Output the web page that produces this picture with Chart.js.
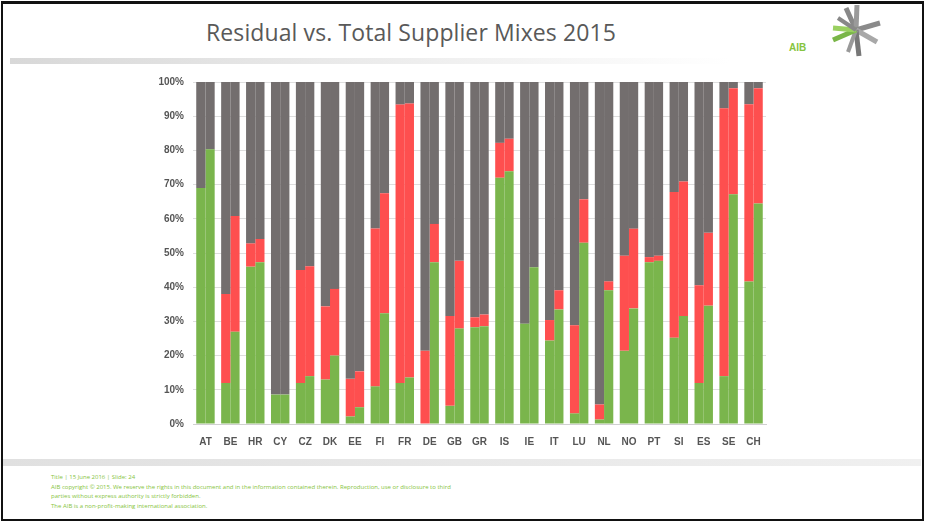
<!DOCTYPE html>
<html>
<head>
<meta charset="utf-8">
<script src="https://cdn.jsdelivr.net/npm/chart.js@4"></script>
<style>
    body { margin: 0; width: 926px; height: 522px; background: #fff; position: relative; overflow: hidden; font-family: "Open Sans", sans-serif; }
    #frame { position: absolute; left: 1px; top: 1px; width: 919px; height: 515px; border: 2px solid #111; border-top-width: 3px; }
    #title { position: absolute; left: 0; top: 16px; width: 822px; text-align: center; font-size: 23px; color: #595959; letter-spacing: 0.1px; }
    #band1 { position: absolute; left: 10px; top: 58px; width: 720px; height: 6px; background: linear-gradient(to right, #d8d8d8, #fff); }
    #band2 { position: absolute; left: 3px; top: 459px; width: 918px; height: 7px; background: linear-gradient(to right, #e0e0e0, #f0f0f0); }
    #footer { position: absolute; left: 51px; top: 473px; font-size: 6px; line-height: 9.6px; color: #86c440; }
    #logo { position: absolute; left: 780px; top: 2px; }
    #wrap { position: absolute; left: 120px; top: 67px; width: 660px; height: 398px; }
</style>
</head>
<body>
<div id="frame"></div>
<div id="title">Residual vs. Total Supplier Mixes 2015</div>
<div id="band1"></div>
<div id="band2"></div>
<svg id="logo" width="120" height="60">
    <text x="9" y="49" font-family="Liberation Sans, Arial" font-size="10" font-weight="bold" fill="#86c440">AIB</text>
    <g stroke-linecap="butt">
        <line x1="76" y1="28" x2="66" y2="6" stroke="#888" stroke-width="5"/>
        <line x1="76" y1="28" x2="77" y2="3" stroke="#9a9a9a" stroke-width="5"/>
        <line x1="76" y1="28" x2="100" y2="21" stroke="#8a8a8a" stroke-width="5"/>
        <line x1="76" y1="28" x2="97" y2="40" stroke="#a8a8a8" stroke-width="5"/>
        <line x1="76" y1="28" x2="79" y2="54" stroke="#777" stroke-width="5"/>
        <line x1="76" y1="28" x2="68" y2="50" stroke="#999" stroke-width="4"/>
        <line x1="76" y1="28" x2="53" y2="38" stroke="#7ab648" stroke-width="5"/>
        <line x1="76" y1="28" x2="53" y2="26" stroke="#9ad060" stroke-width="5"/>
        <line x1="76" y1="28" x2="58" y2="16" stroke="#888" stroke-width="4"/>
    </g>
</svg>
<div id="wrap"><canvas id="chart"></canvas></div>
<div id="footer">
    Title | 15 June 2016 | Slide: 24<br>
    AIB copyright © 2015. We reserve the rights in this document and in the information contained therein. Reproduction, use or disclosure to third<br>
    parties without express authority is strictly forbidden.<br>
    The AIB is a non-profit-making international association.
</div>
<script>
const countries = ['AT', 'BE', 'HR', 'CY', 'CZ', 'DK', 'EE', 'FI', 'FR', 'DE', 'GB', 'GR', 'IS', 'IE', 'IT', 'LU', 'NL', 'NO', 'PT', 'SI', 'ES', 'SE', 'CH'];

// residual mix shares (%)
const residualGreen = [69, 12, 46, 8.6, 12, 13, 2.2, 11, 12, 0, 5.3, 28.3, 72, 29.3, 24.4, 3.1, 1.3, 21.4, 47.3, 25.2, 12, 14, 41.7];
const residualRed = [0, 26, 6.8, 0, 33, 21.4, 11, 46.2, 81.4, 21.4, 26.3, 2.9, 10.2, 0, 6, 25.8, 4.4, 27.8, 1.5, 42.6, 28.6, 78.3, 51.8];
const residualGrey = [31, 62, 47.2, 91.4, 55, 65.6, 86.8, 42.8, 6.6, 78.6, 68.4, 68.8, 17.8, 70.7, 69.6, 71.1, 94.3, 50.8, 51.2, 32.2, 59.4, 7.7, 6.5];

// total supplier mix shares (%)
const totalGreen = [80.3, 27, 47.3, 8.6, 14, 20, 4.9, 32.4, 13.6, 47.3, 27.9, 28.6, 73.9, 45.8, 33.5, 53, 39.1, 33.8, 47.7, 31.6, 34.6, 67.2, 64.5];
const totalRed = [0, 33.8, 6.8, 0, 32.1, 19.5, 10.5, 35.1, 80.1, 11.2, 19.8, 3.4, 9.5, 0, 5.6, 12.7, 2.6, 23.3, 1.5, 39.3, 21.3, 31, 33.7];
const totalGrey = [19.7, 39.2, 45.9, 91.4, 53.9, 60.5, 84.6, 32.5, 6.3, 41.5, 52.3, 68, 16.6, 54.2, 60.9, 34.3, 58.3, 42.9, 50.8, 29.1, 44.1, 1.8, 1.8];

const yTicks = [0, 10, 20, 30, 40, 50, 60, 70, 80, 90, 100];

const green = '#7ab54c';
const red = '#fe4f4f';
const grey = '#736e6e';

function bar(label, data, color, stack) {
    return {
        label: label,
        data: data,
        backgroundColor: color,
        stack: stack,
        barPercentage: 1,
        categoryPercentage: 0.74,
        borderWidth: 0
    };
}

new Chart(document.getElementById('chart'), {
    type: 'bar',
    data: {
        labels: countries,
        datasets: [
            bar('Residual green', residualGreen, green, 'residual'),
            bar('Residual red', residualRed, red, 'residual'),
            bar('Residual grey', residualGrey, grey, 'residual'),
            bar('Total green', totalGreen, green, 'total'),
            bar('Total red', totalRed, red, 'total'),
            bar('Total grey', totalGrey, grey, 'total')
        ]
    },
    options: {
        responsive: true,
        maintainAspectRatio: false,
        animation: false,
        layout: { padding: { top: 11, right: 14, bottom: 0, left: 0 } },
        plugins: { legend: { display: false }, tooltip: { enabled: false } },
        scales: {
            x: {
                stacked: true,
                grid: { display: false, drawTicks: false },
                border: { color: '#d0d0d0', width: 1 },
                ticks: { padding: 12, color: '#555', font: { family: 'Liberation Sans', size: 10, weight: 'bold' } },
                afterFit: (s) => { s.height = 41; }
            },
            y: {
                stacked: true,
                min: 0,
                max: 100,
                afterBuildTicks: (s) => { s.ticks = yTicks.map(v => ({ value: v })); },
                grid: { color: '#dedede', drawTicks: false },
                border: { display: false },
                ticks: {
                    padding: 9,
                    color: '#555',
                    font: { family: 'Liberation Sans', size: 10, weight: 'bold' },
                    callback: (v) => v + '%'
                },
                afterFit: (s) => { s.width = 73; }
            }
        }
    }
});
</script>
</body>
</html>
